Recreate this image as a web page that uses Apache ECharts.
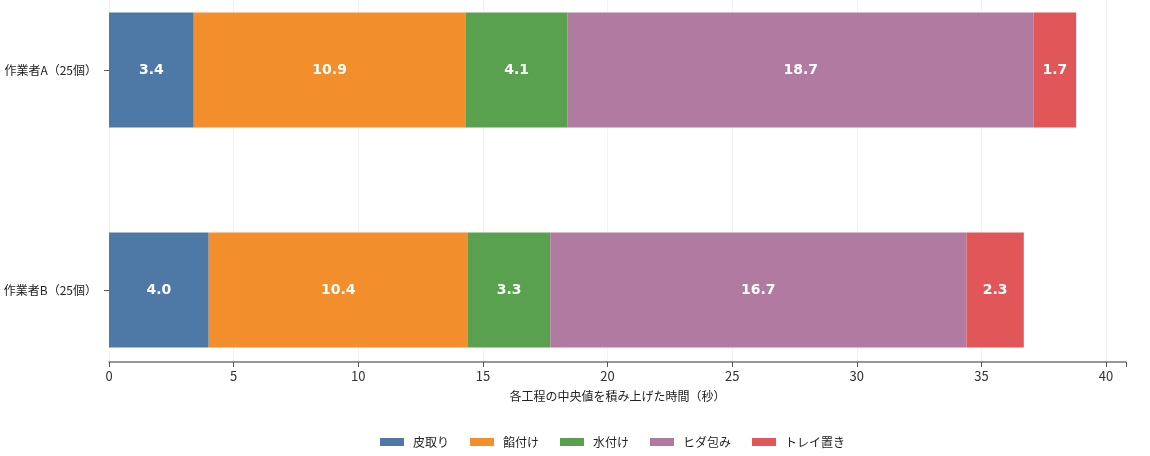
<!DOCTYPE html>
<html lang="ja">
<head>
	<meta charset="UTF-8">
	<title>作業時間</title>
	<style>
		html, body { margin: 0; padding: 0; background: #fff; }
	</style>
</head>
<body>
	<div id="container" style="width: 1150px;height:456px;"></div>

	<script src="https://cdn.jsdelivr.net/npm/echarts@6/dist/echarts.min.js"></script>
	<script>
        var categories = ['作業者A（25個）', '作業者B（25個）'];
        var stepNames = ['皮取り', '餡付け', '水付け', 'ヒダ包み', 'トレイ置き'];
        var stepColors = ['#4e79a7', '#f28e2b', '#59a14f', '#b07aa1', '#e15759'];
        var peelValues = [3.4, 4.0];
        var fillValues = [10.9, 10.4];
        var waterValues = [4.1, 3.3];
        var pleatValues = [18.7, 16.7];
        var trayValues = [1.7, 2.3];
        var xTicks = [0, 5, 10, 15, 20, 25, 30, 35, 40];
        var xMax = 40.8;

        var font = '"Noto Sans CJK JP", "Noto Sans", sans-serif';
        var stepValues = [peelValues, fillValues, waterValues, pleatValues, trayValues];

        // px per unit, used so the grid-line grid ends at 40
        var plotLeft = 109, plotRight = 24;
        var unitPx = (1150 - plotLeft - plotRight) / xMax;
        var lineRight = plotRight + (xMax - xTicks[xTicks.length - 1]) * unitPx;

        var series = stepNames.map(function (name, i) {
            return {
                name: name,
                type: 'bar',
                stack: 'total',
                xAxisIndex: 0,
                yAxisIndex: 0,
                barWidth: 115,
                itemStyle: { color: stepColors[i] },
                label: {
                    show: true,
                    position: 'inside',
                    color: '#fff',
                    fontWeight: 'bold',
                    fontSize: 14,
                    fontFamily: '"DejaVu Sans", sans-serif',
                    formatter: function (p) { return p.value.toFixed(1); }
                },
                data: stepValues[i]
            };
        });

        var option = {
            animation: false,
            textStyle: { fontFamily: font },
            grid: [
                { left: plotLeft, right: plotRight, top: 70, height: 220 },
                { left: plotLeft, right: plotRight, top: 0, bottom: 94 },
                { left: plotLeft, right: lineRight, top: 0, bottom: 94 }
            ],
            xAxis: [
                {
                    type: 'value', gridIndex: 0, min: 0, max: xMax, show: false
                },
                {
                    type: 'value', gridIndex: 1, min: 0, max: xMax, interval: 5,
                    name: '各工程の中央値を積み上げた時間（秒）',
                    nameLocation: 'middle',
                    nameGap: 28,
                    nameTextStyle: { color: '#222', fontSize: 12, fontFamily: font },
                    axisLine: { show: true, lineStyle: { color: '#777', width: 1.5 } },
                    axisTick: { show: true, length: 5, lineStyle: { color: '#555' } },
                    axisLabel: { customValues: xTicks, color: '#333', fontSize: 13, margin: 8, fontFamily: font },
                    splitLine: { show: false }
                },
                {
                    // faint vertical grid lines 0..40
                    type: 'value', gridIndex: 2, min: xTicks[0], max: xTicks[xTicks.length - 1], interval: 5,
                    axisLine: { show: false },
                    axisTick: { show: false },
                    axisLabel: { show: false },
                    splitLine: { show: true, lineStyle: { color: '#f2f2f2' } }
                }
            ],
            yAxis: [
                {
                    type: 'category', gridIndex: 0, data: categories, inverse: true,
                    boundaryGap: false,
                    axisLine: { show: false },
                    axisTick: { show: true, length: 5, lineStyle: { color: '#555' } },
                    axisLabel: { color: '#222', fontSize: 12, margin: 12, fontFamily: font },
                    splitLine: { show: false }
                },
                { type: 'value', gridIndex: 1, show: false },
                { type: 'value', gridIndex: 2, show: false }
            ],
            legend: {
                data: stepNames,
                left: 375,
                top: 431,
                icon: 'rect',
                itemWidth: 24,
                itemHeight: 8,
                itemGap: 21,
                textStyle: { color: '#222', fontSize: 12, fontFamily: font, padding: [0, 0, 0, 4] }
            },
            series: series
        };

        var myChart = echarts.init(document.getElementById('container'));
        myChart.setOption(option);
    </script>
</body>
</html>
